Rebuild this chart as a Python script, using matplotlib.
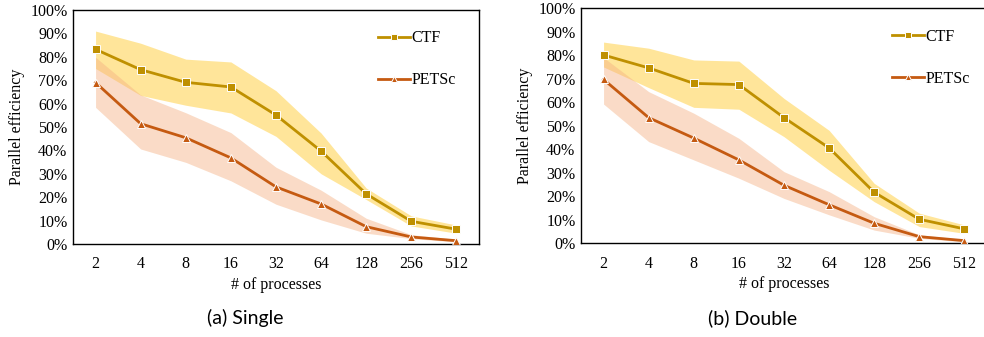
import matplotlib
matplotlib.use("Agg")
import matplotlib.pyplot as plt
import numpy as np

categories = ["2", "4", "8", "16", "32", "64", "128", "256", "512"]

# Single precision
single_ctf = [83.2, 74.5, 69.1, 67.1, 55.1, 39.7, 21.4, 9.7, 6.3]
single_ctf_hi = [91.0, 85.8, 79.0, 77.8, 65.5, 47.4, 23.9, 12.0, 8.1]
single_ctf_lo = [75.0, 63.5, 59.3, 56.0, 46.0, 30.0, 19.0, 7.7, 4.6]
single_petsc = [69.0, 51.4, 45.4, 36.8, 24.4, 17.1, 7.4, 3.0, 1.4]
single_petsc_hi = [79.8, 63.7, 56.1, 47.6, 32.8, 23.0, 11.0, 4.0, 2.0]
single_petsc_lo = [58.4, 40.6, 34.9, 27.0, 17.0, 10.3, 4.6, 2.3, 0.9]

# Double precision
double_ctf = [80.1, 74.6, 68.0, 67.5, 53.4, 40.5, 21.6, 10.1, 6.0]
double_ctf_hi = [85.6, 83.0, 78.0, 77.5, 61.6, 48.0, 25.4, 12.7, 7.7]
double_ctf_lo = [75.0, 66.2, 57.8, 57.0, 45.3, 31.0, 17.6, 7.0, 4.1]
double_petsc = [69.7, 53.4, 44.7, 35.4, 24.6, 16.3, 8.4, 2.7, 1.0]
double_petsc_hi = [79.0, 64.5, 55.3, 44.6, 30.4, 21.9, 11.2, 3.5, 1.5]
double_petsc_lo = [59.2, 43.2, 35.4, 27.6, 19.0, 12.0, 5.5, 2.0, 0.5]

yticks = [0, 10, 20, 30, 40, 50, 60, 70, 80, 90, 100]
ytick_labels = [f"{v}%" for v in yticks]

CTF_LINE = "#BF9000"
CTF_BAND = "#FFE38F"
PET_LINE = "#C55A11"
PET_BAND = "#F4B183"

serif = ["Liberation Serif", "DejaVu Serif"]
plt.rcParams["font.family"] = serif

W, H = 984, 337
fig = plt.figure(figsize=(W / 100, H / 100), dpi=100)

def px_axes(left, right, top, bottom):
    return [left / W, (H - bottom) / H, (right - left) / W, (bottom - top) / H]

panels = [
    (px_axes(73, 479, 10, 244), single_ctf, single_ctf_lo, single_ctf_hi,
     single_petsc, single_petsc_lo, single_petsc_hi, "(a) Single", 245 / W,
     (0.735, 0.94)),
    (px_axes(581, 987, 8.3, 243), double_ctf, double_ctf_lo, double_ctf_hi,
     double_petsc, double_petsc_lo, double_petsc_hi, "(b) Double", 753 / W,
     (0.75, 0.94)),
]

for (pos, ctf, ctf_lo, ctf_hi, pet, pet_lo, pet_hi, caption, capx, legpos) in panels:
    ax = fig.add_axes(pos)
    x = np.arange(len(categories))
    ax.fill_between(x, ctf_lo, ctf_hi, color=CTF_BAND, alpha=0.9, lw=0, zorder=1)
    ax.fill_between(x, pet_lo, pet_hi, color=PET_BAND, alpha=0.45, lw=0, zorder=2)
    ax.plot(x, ctf, color=CTF_LINE, lw=2.0, marker="s", ms=5.5,
            mec="white", mew=0.7, label="CTF", zorder=4)
    ax.plot(x, pet, color=PET_LINE, lw=2.0, marker="^", ms=5.5,
            mec="white", mew=0.7, label="PETSc", zorder=4)
    ax.set_xlim(-0.5, len(categories) - 0.5)
    ax.set_ylim(0, 100)
    ax.set_xticks(x)
    ax.set_xticklabels(categories)
    ax.set_yticks(yticks)
    ax.set_yticklabels(ytick_labels)
    ax.tick_params(axis="both", length=0, labelsize=11.5)
    ax.tick_params(axis="x", pad=9)
    ax.tick_params(axis="y", pad=4)
    for s in ax.spines.values():
        s.set_linewidth(1.0)
        s.set_color("black")
    ax.set_ylabel("Parallel efficiency", fontsize=11.5, labelpad=4)
    ax.set_xlabel("# of processes", fontsize=11.5, labelpad=3)
    ax.legend(loc="upper left", bbox_to_anchor=legpos, frameon=False,
              fontsize=11.5, labelspacing=1.62, handlelength=2.0,
              handletextpad=0.1, borderaxespad=0, markerscale=0.75)
    fig.text(capx, (H - 318) / H, caption, ha="center", va="center",
             fontsize=14, family=["Lato", "DejaVu Sans"])

fig.savefig("out.png", dpi=100)
